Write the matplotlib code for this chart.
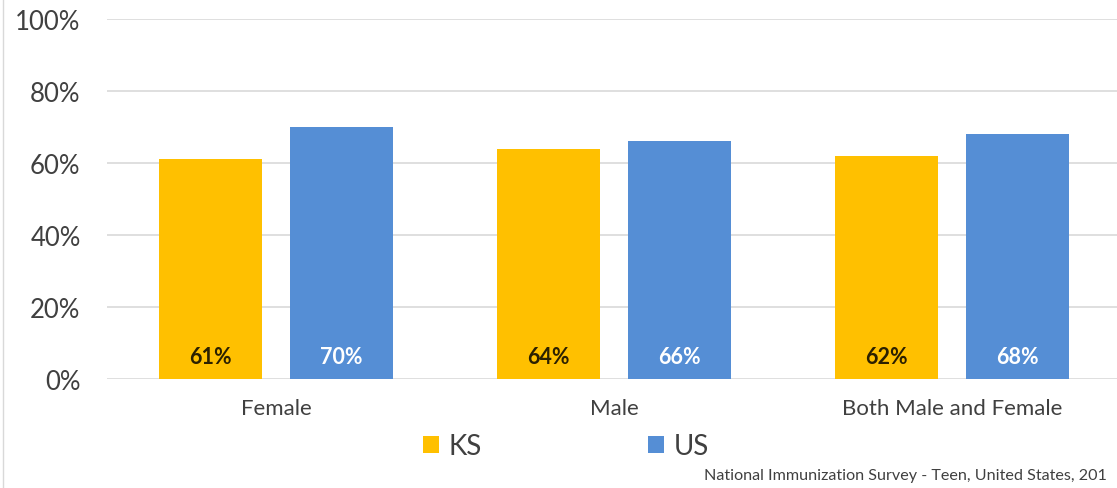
import matplotlib
matplotlib.use("Agg")
import matplotlib.pyplot as plt
from matplotlib.patches import Patch
from matplotlib.lines import Line2D
import numpy as np

categories = ["Female", "Male", "Both Male and Female"]
ks_values = [61, 64, 62]
us_values = [70, 66, 68]
series_names = ["KS", "US"]
yticks = [0, 20, 40, 60, 80, 100]
source_text = "National Immunization Survey - Teen, United States, 201"

KS_COLOR = "#FFC000"
US_COLOR = "#558ED5"
TEXT_COLOR = "#404040"

plt.rcParams["font.family"] = ["Lato", "DejaVu Sans"]

fig = plt.figure(figsize=(11.17, 4.89), dpi=100)
ax = fig.add_axes([107 / 1117, 1 - 380 / 489, 1 - 107 / 1117, (380 - 20) / 489])

x = np.arange(len(categories))
w = 0.305
off = 0.194
b1 = ax.bar(x - off, ks_values, w, color=KS_COLOR, zorder=2)
b2 = ax.bar(x + off, us_values, w, color=US_COLOR, zorder=2)

# value labels near the bottom of the bars
for bar, v in zip(b1, ks_values):
    ax.text(bar.get_x() + bar.get_width() / 2, 6.3, f"{v}%", ha="center", va="center",
            fontsize=15.5, fontweight="bold", color="#2b2000", zorder=3)
for bar, v in zip(b2, us_values):
    ax.text(bar.get_x() + bar.get_width() / 2, 6.3, f"{v}%", ha="center", va="center",
            fontsize=15.5, fontweight="bold", color="white", zorder=3)

ax.set_xlim(-0.5, 2.488)
ax.set_ylim(0, 100)
ax.set_yticks(yticks)
ax.set_yticklabels([f"{t}%" for t in yticks], fontsize=18.5, color=TEXT_COLOR)
ax.set_xticks(x)
ax.set_xticklabels(categories, fontsize=16, color=TEXT_COLOR)
ax.tick_params(axis="both", length=0)
ax.tick_params(axis="y", pad=19)
ax.tick_params(axis="x", pad=14)
ax.grid(axis="y", color="#D9D9D9", linewidth=1.2, zorder=0)
for s in ax.spines.values():
    s.set_visible(False)

handles = [Patch(facecolor=KS_COLOR), Patch(facecolor=US_COLOR)]
fig.legend(handles, series_names, loc="center", bbox_to_anchor=(566 / 1117, 1 - 447 / 489),
           ncol=2, frameon=False, fontsize=20, handlelength=0.55, handleheight=0.55,
           handletextpad=0.35, columnspacing=6.0, labelcolor=TEXT_COLOR)

fig.text(704 / 1117, 1 - 476 / 489, source_text, fontsize=11.6, color=TEXT_COLOR,
         ha="left", va="center")

# thin frame line at the left edge
fig.add_artist(Line2D([3 / 1117, 3 / 1117], [0, 1], transform=fig.transFigure,
                      color="#D9D9D9", linewidth=1))

fig.savefig("out.png", dpi=100)
